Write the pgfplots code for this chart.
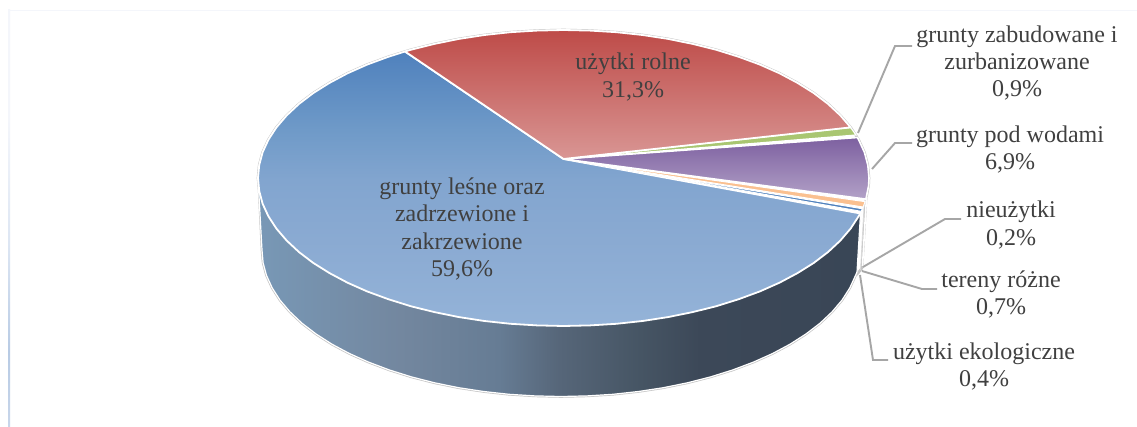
\documentclass[border=0pt]{standalone}
\usepackage{fontspec}
\setmainfont{Liberation Serif}
\usepackage{pgfplots}
\pgfplotsset{compat=1.18}
\definecolor{txt}{HTML}{404040}
\definecolor{lead}{HTML}{A6A6A6}
\definecolor{rim}{HTML}{C4C4C4}
\definecolor{rimb}{HTML}{D8D8D8}
\definecolor{wa}{HTML}{7898B6}
\definecolor{wb}{HTML}{73879F}
\definecolor{wc}{HTML}{667C94}
\definecolor{wd}{HTML}{566679}
\definecolor{we}{HTML}{465564}
\definecolor{wf}{HTML}{3C4858}
\definecolor{wg}{HTML}{394656}
\definecolor{ba}{HTML}{94B3D8}
\definecolor{bb}{HTML}{8AAAD2}
\definecolor{bc}{HTML}{82A5CF}
\definecolor{bd}{HTML}{6F9AC8}
\definecolor{be}{HTML}{4F81BD}
\definecolor{fa}{HTML}{F4F6FB}
\definecolor{fb}{HTML}{DDE6F3}
\definecolor{fc}{HTML}{B8CBE4}
\definecolor{fd}{HTML}{C8D6EA}
\pgfdeclarehorizontalshading{wall}{100bp}{color(0bp)=(wa); color(25bp)=(wa); color(36.8bp)=(wb); color(45bp)=(wc); color(50bp)=(wd); color(56.7bp)=(we); color(61.7bp)=(wf); color(75bp)=(wg); color(100bp)=(wg)}
\pgfdeclareverticalshading{blueface}{100bp}{color(0bp)=(ba); color(25bp)=(ba); color(40.7bp)=(bb); color(51.6bp)=(bc); color(60.7bp)=(bd); color(75bp)=(be); color(100bp)=(be)}
\pgfdeclareverticalshading{frameleft}{100bp}{color(0bp)=(fd); color(25bp)=(fd); color(34bp)=(fc); color(47bp)=(fb); color(62bp)=(fa); color(100bp)=(fa)}
\tikzset{lab/.style={text=txt, align=center, inner sep=0pt,
    font=\fontsize{24}{27.3}\selectfont}}
\begin{document}
\begin{tikzpicture}
\begin{axis}[
  scale only axis, width=1137pt, height=427pt,
  xmin=0, xmax=1137, ymin=0, ymax=427, y dir=reverse,
  hide axis, clip=true,
]
% background and frame
\addplot[fill=white, draw=none] coordinates {(0,0) (1137,0) (1137,427) (0,427)} --cycle;
\addplot[draw=fa, line width=1.5pt] coordinates {(8,10.5) (1137,10.5)};
\addplot[shade, shading=frameleft, draw=none] coordinates {(8,10) (10,10) (10,427) (8,427)} --cycle;
% outer rim
\addplot[draw=rim, line width=2.6pt, fill=white, line join=round] coordinates {
(869,178) (867.8,165.1) (864.4,152.3) (858.6,139.7) (850.6,127.4) (840.4,115.5) (828.1,104) (813.8,93.1) (797.5,82.9) (779.5,73.3) (759.9,64.6) (738.7,56.8) (716.3,49.8) (692.6,43.9) (668,38.9) (642.6,35) (616.5,32.2) (590.1,30.6) (563.5,30) (536.9,30.6) (510.5,32.2) (484.4,35) (459,38.9) (434.4,43.9) (410.7,49.8) (388.3,56.8) (367.1,64.6) (347.5,73.3) (329.5,82.9) (313.2,93.1) (298.9,104) (286.6,115.5) (276.4,127.4) (268.4,139.7) (262.6,152.3) (259.2,165.1) (258,178) (259.2,190.9) (262,250) (263.1,262.8) (266.5,275.4) (272.2,287.9) (280,300.1) (290,311.9) (302.1,323.3) (316.1,334) (332,344.2) (349.6,353.6) (368.8,362.2) (389.5,370) (411.5,376.9) (434.6,382.8) (458.7,387.7) (483.6,391.5) (509.1,394.3) (534.9,395.9) (561,396.5) (587.1,395.9) (612.9,394.3) (638.4,391.5) (663.3,387.7) (687.4,382.8) (710.5,376.9) (732.5,370) (753.2,362.2) (772.4,353.6) (790,344.2) (805.9,334) (819.9,323.3) (832,311.9) (842,300.1) (849.8,287.9) (855.5,275.4) (858.9,272) (862,268) (866,199) (868.6,185.7)} --cycle;
\addplot[draw=white, line width=1.6pt] coordinates {(866.5,197) (862.5,266)};
\addplot[draw=rimb, line width=0.7pt] coordinates {(864,206) (860.5,270)};
% side wall
\addplot[shade, shading=wall, draw=white, line width=1.2pt, line join=round] coordinates {
(860.5,213.5) (857,272) (855.5,275.4) (849.8,287.9) (842,300.1) (832,311.9) (819.9,323.3) (805.9,334) (790,344.2) (772.4,353.6) (753.2,362.2) (732.5,370) (710.5,376.9) (687.4,382.8) (663.3,387.7) (638.4,391.5) (612.9,394.3) (587.1,395.9) (561,396.5) (534.9,395.9) (509.1,394.3) (483.6,391.5) (458.7,387.7) (434.6,382.8) (411.5,376.9) (389.5,370) (368.8,362.2) (349.6,353.6) (332,344.2) (316.1,334) (302.1,323.3) (290,311.9) (280,300.1) (272.2,287.9) (266.5,275.4) (263.1,262.8) (262,250) (258,178)} --cycle;
% grunty lesne
\addplot[shade, shading=blueface, draw=white, line width=1.8pt, line join=round] coordinates {
(563.5,159) (405,51.5) (388.3,56.8) (367.1,64.6) (347.5,73.3) (329.5,82.9) (313.2,93.1) (298.9,104) (286.6,115.5) (276.4,127.4) (268.4,139.7) (262.6,152.3) (259.2,165.1) (258,178) (259.2,190.9) (262.6,203.7) (268.4,216.3) (276.4,228.6) (286.6,240.5) (298.9,252) (313.2,262.9) (329.5,273.1) (347.5,282.7) (367.1,291.4) (388.3,299.2) (410.7,306.2) (434.4,312.1) (459,317.1) (484.4,321) (510.5,323.8) (536.9,325.4) (563.5,326) (590.1,325.4) (616.5,323.8) (642.6,321) (668,317.1) (692.6,312.1) (716.3,306.2) (738.7,299.2) (759.9,291.4) (779.5,282.7) (797.5,273.1) (813.8,262.9) (828.1,252) (840.4,240.5) (850.6,228.6) (858.6,216.3) (860.5,213.5)} --cycle;
% uzytki ekologiczne
\addplot[fill=be, draw=white, line width=0.9pt] coordinates {(563.5,159) (861.2,211.3) (862.3,208.8)} --cycle;
% tereny rozne
\addplot[fill={rgb,255:red,250;green,192;blue,144}, draw=white, line width=0.9pt] coordinates {(563.5,159) (863.1,207) (865.1,201.7)} --cycle;
% grunty pod wodami
\addplot[shade, top color={rgb,255:red,125;green,96;blue,160}, bottom color={rgb,255:red,178;green,161;blue,199}, draw=white, line width=1.6pt, line join=round] coordinates {
(563.5,159) (865.9,199.1) (868.6,185.7) (869,178) (867.8,165.1) (864.4,152.3) (858.6,139.7) (857.5,137.5)} --cycle;
% grunty zabudowane
\addplot[fill={rgb,255:red,169;green,198;blue,113}, draw=white, line width=1.2pt] coordinates {(563.5,159) (856,135) (850.6,127.4)} --cycle;
% uzytki rolne
\addplot[shade, top color={rgb,255:red,190;green,75;blue,72}, bottom color={rgb,255:red,217;green,150;blue,148}, draw=white, line width=1.8pt, line join=round] coordinates {
(563.5,159) (850.6,127.4) (840.4,115.5) (828.1,104) (813.8,93.1) (797.5,82.9) (779.5,73.3) (759.9,64.6) (738.7,56.8) (716.3,49.8) (692.6,43.9) (668,38.9) (642.6,35) (616.5,32.2) (590.1,30.6) (563.5,30) (536.9,30.6) (510.5,32.2) (484.4,35) (459,38.9) (434.4,43.9) (410.7,49.8) (405,51.5)} --cycle;
% leader lines
\addplot[draw=lead, line width=1.9pt] coordinates {(858,133) (895,46) (912,46)};
\addplot[draw=lead, line width=1.9pt] coordinates {(872,169) (895,143) (912,143)};
\addplot[draw=lead, line width=1.9pt] coordinates {(863,267) (945,219) (961,219)};
\addplot[draw=lead, line width=1.9pt] coordinates {(862,271) (922,289) (937,289)};
\addplot[draw=lead, line width=1.9pt] coordinates {(860,275) (873,360) (888,360)};
% labels
\node[lab] at (axis cs:462,229) {grunty leśne oraz\\zadrzewione i\\zakrzewione\\59,6\%};
\node[lab] at (axis cs:633,77) {użytki rolne\\31,3\%};
\node[lab] at (axis cs:1017,63) {grunty zabudowane i\\zurbanizowane\\0,9\%};
\node[lab] at (axis cs:1010,149.5) {grunty pod wodami\\6,9\%};
\node[lab] at (axis cs:1011,225) {nieużytki\\0,2\%};
\node[lab] at (axis cs:1001,294.5) {tereny różne\\0,7\%};
\node[lab] at (axis cs:984,366.5) {użytki ekologiczne\\0,4\%};
\end{axis}
\end{tikzpicture}
\end{document}
